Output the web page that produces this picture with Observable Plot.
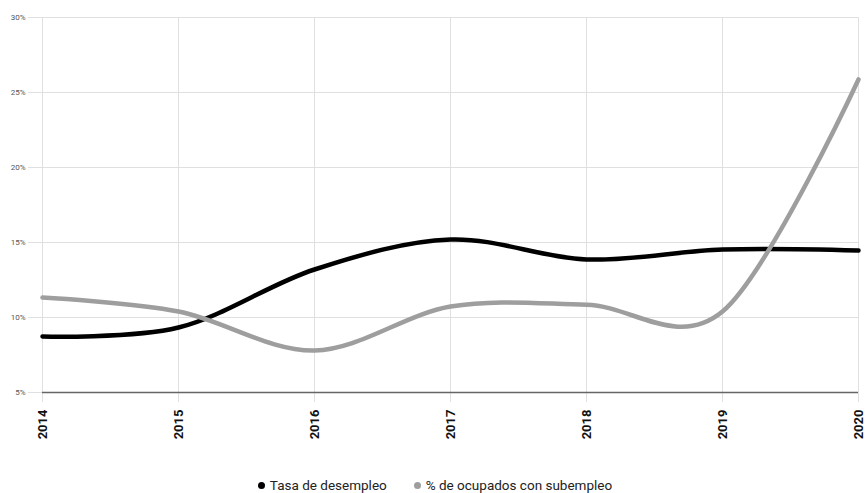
<!DOCTYPE html>
<html><head><meta charset="utf-8">
<script src="https://cdn.jsdelivr.net/npm/d3@7"></script>
<script src="https://cdn.jsdelivr.net/npm/@observablehq/plot@0.6"></script>
<style>
body{margin:0;background:#fff;font-family:Roboto,sans-serif;}
#legend{display:flex;justify-content:center;gap:27px;font-size:13.5px;color:#222;margin-top:9px;padding-left:4px}
#legend span{display:inline-flex;align-items:center}
#legend i{display:inline-block;width:7px;height:7px;border-radius:50%;margin-right:5px}
</style></head>
<body><div id="chart"></div>
<div id="legend"></div>
<script>
const years = [2014, 2015, 2016, 2017, 2018, 2019, 2020];
const desempleo = [8.73, 9.33, 13.2, 15.2, 13.87, 14.53, 14.47];
const subempleo = [11.33, 10.4, 7.8, 10.73, 10.85, 10.4, 25.87];
const seriesNames = ["Tasa de desempleo", "% de ocupados con subempleo"];
const seriesColors = ["#000000", "#9e9e9e"];
const yTicks = [5, 10, 15, 20, 25, 30];

const data = [];
years.forEach((y, i) => {
  data.push({year: y, value: desempleo[i], serie: seriesNames[0]});
  data.push({year: y, value: subempleo[i], serie: seriesNames[1]});
});

const H = 468;
const chart = Plot.plot({
  width: 866, height: H,
  marginLeft: 42, marginRight: 8, marginTop: 17, marginBottom: H - 392,
  style: {fontFamily: "Roboto, sans-serif", background: "#fff"},
  x: {domain: [2014, 2020], ticks: years, tickFormat: d => String(d)},
  y: {domain: [5, 30], ticks: yTicks},
  color: {domain: seriesNames, range: seriesColors},
  marks: [
    Plot.gridX(years, {stroke: "#e0e0e0", strokeOpacity: 1}),
    Plot.gridY(yTicks, {stroke: "#e0e0e0", strokeOpacity: 1}),
    Plot.axisY({ticks: yTicks, tickFormat: d => d + "%", tickSize: 14, tickPadding: 3, stroke: "#e0e0e0", fontSize: 8, fill: "#555", label: null}),
    Plot.axisX({ticks: years, tickFormat: d => String(d), tickSize: 10, tickPadding: 7, tickRotate: -90, stroke: "#e0e0e0", fontSize: 13, fontWeight: "bold", fill: "#111", label: null}),
    Plot.ruleY([5], {stroke: "#666", strokeWidth: 1.5}),
    Plot.line(data, {x: "year", y: "value", stroke: "serie", z: "serie", curve: "cardinal", strokeWidth: 4.5, strokeLinecap: "round"})
  ]
});
document.getElementById("chart").appendChild(chart);
const leg = document.getElementById("legend");
seriesNames.forEach((n, i) => {
  const s = document.createElement("span");
  s.innerHTML = `<i style="background:${seriesColors[i]}"></i>${n}`;
  leg.appendChild(s);
});
</script></body></html>
